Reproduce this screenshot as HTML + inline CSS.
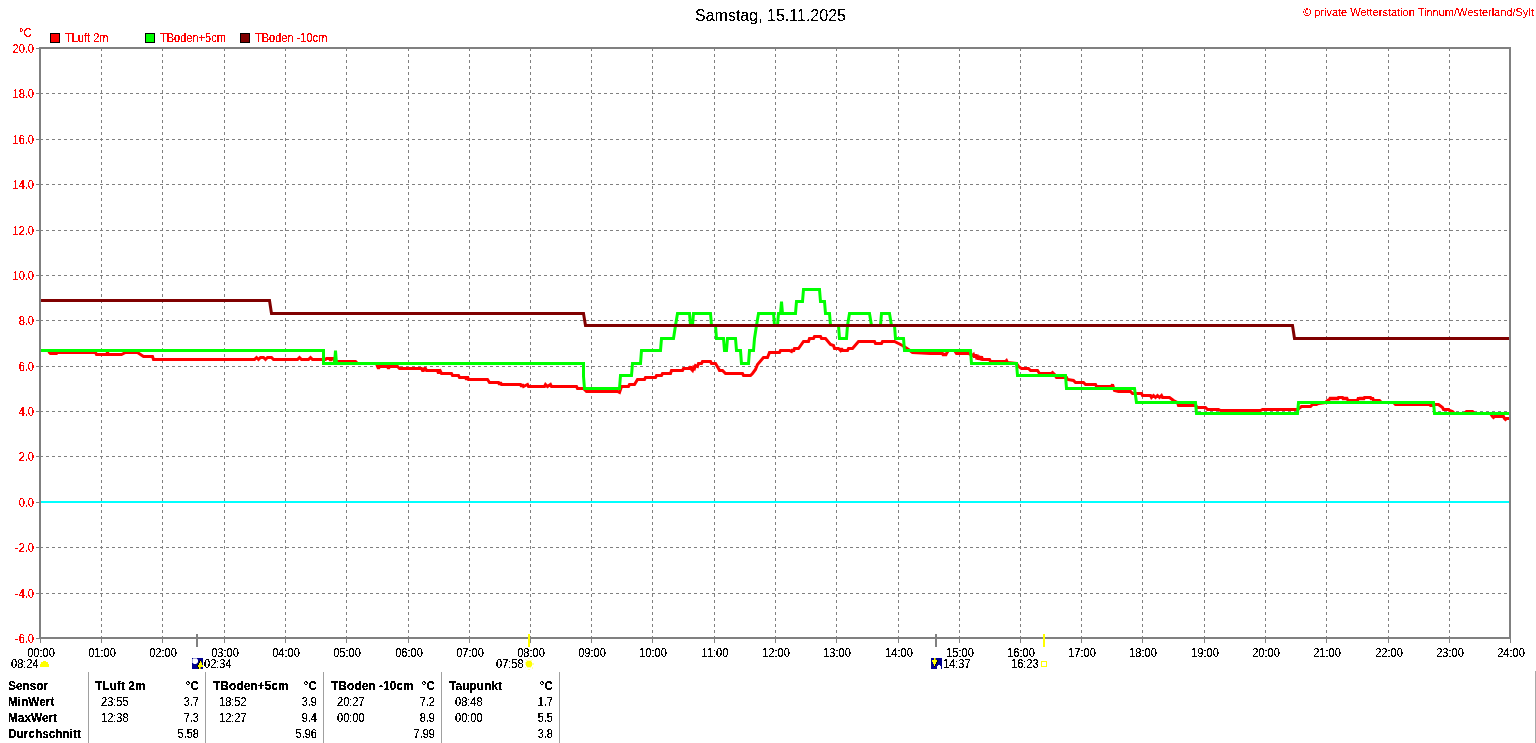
<!DOCTYPE html>
<html><head><meta charset="utf-8"><style>
html,body{margin:0;padding:0;background:#fff;}
svg{display:block;}
text{font-family:"Liberation Sans",sans-serif;}
</style></head><body>
<svg width="1536" height="743" viewBox="0 0 1536 743">
<rect width="1536" height="743" fill="#fff"/>
<g stroke="#808080" stroke-width="1" stroke-dasharray="3 3" shape-rendering="crispEdges"><line x1="40" y1="93.5" x2="1509" y2="93.5"/><line x1="40" y1="139.5" x2="1509" y2="139.5"/><line x1="40" y1="184.5" x2="1509" y2="184.5"/><line x1="40" y1="230.5" x2="1509" y2="230.5"/><line x1="40" y1="275.5" x2="1509" y2="275.5"/><line x1="40" y1="320.5" x2="1509" y2="320.5"/><line x1="40" y1="366.5" x2="1509" y2="366.5"/><line x1="40" y1="411.5" x2="1509" y2="411.5"/><line x1="40" y1="456.5" x2="1509" y2="456.5"/><line x1="40" y1="547.5" x2="1509" y2="547.5"/><line x1="40" y1="593.5" x2="1509" y2="593.5"/><line x1="101.5" y1="48" x2="101.5" y2="637"/><line x1="162.5" y1="48" x2="162.5" y2="637"/><line x1="224.5" y1="48" x2="224.5" y2="637"/><line x1="285.5" y1="48" x2="285.5" y2="637"/><line x1="346.5" y1="48" x2="346.5" y2="637"/><line x1="408.5" y1="48" x2="408.5" y2="637"/><line x1="469.5" y1="48" x2="469.5" y2="637"/><line x1="530.5" y1="48" x2="530.5" y2="637"/><line x1="591.5" y1="48" x2="591.5" y2="637"/><line x1="652.5" y1="48" x2="652.5" y2="637"/><line x1="714.5" y1="48" x2="714.5" y2="637"/><line x1="775.5" y1="48" x2="775.5" y2="637"/><line x1="836.5" y1="48" x2="836.5" y2="637"/><line x1="898.5" y1="48" x2="898.5" y2="637"/><line x1="959.5" y1="48" x2="959.5" y2="637"/><line x1="1020.5" y1="48" x2="1020.5" y2="637"/><line x1="1081.5" y1="48" x2="1081.5" y2="637"/><line x1="1142.5" y1="48" x2="1142.5" y2="637"/><line x1="1204.5" y1="48" x2="1204.5" y2="637"/><line x1="1265.5" y1="48" x2="1265.5" y2="637"/><line x1="1326.5" y1="48" x2="1326.5" y2="637"/><line x1="1388.5" y1="48" x2="1388.5" y2="637"/><line x1="1449.5" y1="48" x2="1449.5" y2="637"/></g><rect x="41" y="501" width="1468" height="2" fill="#00ffff"/><defs><filter id="crisp" x="0" y="0" width="1536" height="743" filterUnits="userSpaceOnUse"><feComponentTransfer><feFuncA type="discrete" tableValues="0 0 0 0 0 0 0 1 1 1 1 1 1 1 1 1 1 1 1 1"/></feComponentTransfer></filter><filter id="crisp2" x="0" y="0" width="1536" height="743" filterUnits="userSpaceOnUse"><feComponentTransfer><feFuncA type="discrete" tableValues="0 0 0 0 0 0 0 0 0 1 1 1 1 1 1 1 1 1 1 1"/></feComponentTransfer></filter><clipPath id="pc"><rect x="41" y="49" width="1468" height="588"/></clipPath></defs><g clip-path="url(#pc)"><polyline points="40.5,350.5 48.5,350.5 49.5,352.5 50.5,353.5 56.5,353.5 57.5,352.5 95.5,352.5 96.5,354.5 106.5,354.5 107.5,352.5 108.5,354.5 121.5,354.5 123.5,353.5 125.5,352.5 137.5,352.5 140.5,354.5 143.5,356.5 152.5,356.5 153.5,359.5 254.5,359.5 256.5,357.5 258.5,359.5 260.5,357.5 263.5,357.5 265.5,359.5 267.5,357.5 271.5,357.5 273.5,359.5 297.5,359.5 299.5,357.5 301.5,359.5 308.5,359.5 310.5,357.5 312.5,359.5 325.5,359.5 326.5,358.5 329.5,358.5 330.5,360.5 331.5,358.5 333.5,358.5 334.5,361.5 355.5,361.5 357.5,363.5 376.5,363.5 377.5,366.5 378.5,368.5 379.5,366.5 387.5,366.5 388.5,368.5 389.5,366.5 397.5,366.5 399.5,368.5 421.5,368.5 422.5,370.5 423.5,370.5 424.5,368.5 425.5,368.5 426.5,370.5 437.5,370.5 438.5,373.5 439.5,369.5 440.5,371.5 441.5,373.5 451.5,373.5 452.5,375.5 458.5,375.5 459.5,377.5 465.5,377.5 466.5,379.5 467.5,376.5 468.5,379.5 487.5,379.5 489.5,382.5 498.5,382.5 499.5,384.5 500.5,382.5 501.5,384.5 520.5,384.5 521.5,386.5 522.5,384.5 523.5,386.5 527.5,384.5 528.5,386.5 544.5,386.5 545.5,384.5 547.5,386.5 550.5,384.5 551.5,386.5 576.5,386.5 577.5,388.5 583.5,388.5 586.5,391.5 617.5,391.5 619.5,392.5 621.5,386.5 628.5,386.5 629.5,384.5 634.5,384.5 637.5,379.5 644.5,379.5 645.5,377.5 655.5,377.5 656.5,375.5 661.5,375.5 662.5,373.5 670.5,373.5 671.5,370.5 682.5,370.5 683.5,368.5 689.5,368.5 690.5,366.5 691.5,369.5 692.5,370.5 693.5,367.5 694.5,368.5 695.5,365.5 697.5,366.5 698.5,363.5 701.5,363.5 702.5,361.5 710.5,361.5 711.5,363.5 715.5,363.5 718.5,368.5 719.5,370.5 722.5,370.5 725.5,373.5 742.5,373.5 743.5,375.5 750.5,375.5 752.5,373.5 755.5,369.5 757.5,364.5 763.5,357.5 767.5,357.5 769.5,352.5 779.5,352.5 780.5,350.5 789.5,350.5 791.5,351.5 792.5,349.5 793.5,351.5 794.5,348.5 798.5,348.5 803.5,341.5 808.5,341.5 809.5,338.5 813.5,338.5 814.5,336.5 820.5,336.5 821.5,338.5 825.5,338.5 830.5,344.5 833.5,345.5 834.5,348.5 838.5,348.5 840.5,350.5 841.5,348.5 842.5,350.5 847.5,350.5 848.5,348.5 852.5,348.5 858.5,341.5 874.5,341.5 875.5,343.5 881.5,343.5 882.5,341.5 894.5,341.5 902.5,345.5 908.5,349.5 912.5,352.5 930.5,353.5 942.5,353.5 943.5,355.5 944.5,353.5 945.5,355.5 946.5,353.5 948.5,350.5 954.5,350.5 956.5,353.5 968.5,353.5 970.5,354.5 972.5,355.5 973.5,354.5 974.5,357.5 975.5,354.5 976.5,357.5 977.5,356.5 978.5,359.5 979.5,357.5 980.5,358.5 981.5,356.5 982.5,359.5 989.5,359.5 990.5,361.5 1005.5,361.5 1006.5,360.5 1007.5,362.5 1016.5,363.5 1018.5,366.5 1021.5,368.5 1028.5,368.5 1030.5,370.5 1037.5,370.5 1039.5,373.5 1051.5,373.5 1052.5,372.5 1054.5,374.5 1056.5,377.5 1066.5,377.5 1067.5,379.5 1073.5,380.5 1075.5,382.5 1083.5,382.5 1085.5,384.5 1095.5,384.5 1096.5,386.5 1111.5,386.5 1112.5,384.5 1114.5,390.5 1118.5,391.5 1130.5,391.5 1132.5,393.5 1141.5,393.5 1142.5,395.5 1150.5,395.5 1151.5,397.5 1153.5,395.5 1155.5,397.5 1157.5,395.5 1159.5,397.5 1161.5,395.5 1162.5,397.5 1169.5,397.5 1173.5,400.5 1177.5,402.5 1178.5,405.5 1195.5,405.5 1197.5,407.5 1205.5,407.5 1207.5,409.5 1218.5,409.5 1220.5,410.5 1260.5,410.5 1262.5,409.5 1297.5,409.5 1301.5,406.5 1310.5,406.5 1312.5,404.5 1316.5,404.5 1318.5,403.5 1325.5,402.5 1327.5,400.5 1329.5,399.5 1330.5,397.5 1331.5,399.5 1332.5,397.5 1333.5,399.5 1334.5,397.5 1335.5,399.5 1336.5,397.5 1337.5,399.5 1338.5,397.5 1339.5,397.5 1340.5,397.5 1341.5,397.5 1342.5,397.5 1343.5,399.5 1344.5,397.5 1345.5,399.5 1346.5,397.5 1347.5,399.5 1348.5,400.5 1357.5,400.5 1358.5,397.5 1359.5,399.5 1360.5,397.5 1361.5,399.5 1362.5,397.5 1363.5,399.5 1364.5,397.5 1365.5,397.5 1366.5,397.5 1367.5,397.5 1368.5,397.5 1369.5,397.5 1370.5,397.5 1371.5,399.5 1372.5,397.5 1373.5,400.5 1379.5,400.5 1381.5,402.5 1393.5,402.5 1395.5,404.5 1429.5,404.5 1430.5,405.5 1432.5,405.5 1433.5,404.5 1438.5,404.5 1442.5,407.5 1443.5,409.5 1448.5,409.5 1449.5,410.5 1452.5,411.5 1454.5,413.5 1464.5,413.5 1466.5,411.5 1472.5,411.5 1474.5,413.5 1490.5,413.5 1492.5,416.5 1493.5,417.5 1494.5,416.5 1503.5,416.5 1504.5,418.5 1505.5,419.5 1506.5,418.5 1509.5,418.5" fill="none" stroke="#ff0000" stroke-width="3" stroke-linejoin="miter" stroke-miterlimit="2" stroke-linecap="square"/><polyline points="40.5,350.5 323.5,350.5 323.5,363.5 334.5,363.5 335.5,350.5 336.5,363.5 583.5,363.5 583.5,376.5 584.5,388.5 619.5,388.5 620.5,375.5 631.5,375.5 632.5,363.5 640.5,363.5 641.5,350.5 660.5,350.5 661.5,338.5 673.5,338.5 675.5,325.5 677.5,313.5 689.5,313.5 690.5,325.5 692.5,325.5 693.5,313.5 710.5,313.5 711.5,325.5 715.5,325.5 716.5,338.5 723.5,338.5 724.5,350.5 726.5,350.5 727.5,338.5 735.5,338.5 736.5,350.5 740.5,350.5 741.5,363.5 748.5,363.5 749.5,350.5 753.5,350.5 754.5,338.5 756.5,325.5 758.5,313.5 773.5,313.5 774.5,325.5 777.5,325.5 778.5,313.5 780.5,313.5 781.5,301.5 782.5,313.5 795.5,313.5 796.5,301.5 802.5,301.5 803.5,289.5 819.5,289.5 820.5,301.5 824.5,301.5 825.5,313.5 829.5,313.5 830.5,325.5 838.5,325.5 839.5,338.5 846.5,338.5 847.5,325.5 849.5,313.5 869.5,313.5 871.5,325.5 880.5,325.5 881.5,313.5 889.5,313.5 891.5,325.5 894.5,325.5 895.5,338.5 903.5,338.5 904.5,350.5 970.5,350.5 971.5,363.5 1016.5,363.5 1017.5,375.5 1065.5,375.5 1066.5,388.5 1134.5,388.5 1136.5,402.5 1195.5,402.5 1196.5,413.5 1297.5,413.5 1298.5,402.5 1433.5,402.5 1434.5,413.5 1509.5,413.5" fill="none" stroke="#00ff00" stroke-width="3" stroke-linejoin="miter" stroke-miterlimit="2" stroke-linecap="square"/><polyline points="40.5,300.5 269.5,300.5 271.5,313.5 583.5,313.5 585.5,325.5 1292.5,325.5 1294.5,338.5 1509.5,338.5" fill="none" stroke="#800000" stroke-width="3" stroke-linejoin="miter" stroke-miterlimit="2" stroke-linecap="square"/></g><g fill="#808080" shape-rendering="crispEdges"><rect x="39" y="47" width="1472" height="2"/><rect x="39" y="47" width="2" height="592"/><rect x="1509" y="47" width="2" height="592"/><rect x="39" y="637" width="1472" height="2"/><rect x="36" y="48" width="3" height="1"/><rect x="36" y="93" width="3" height="1"/><rect x="36" y="139" width="3" height="1"/><rect x="36" y="184" width="3" height="1"/><rect x="36" y="230" width="3" height="1"/><rect x="36" y="275" width="3" height="1"/><rect x="36" y="320" width="3" height="1"/><rect x="36" y="366" width="3" height="1"/><rect x="36" y="411" width="3" height="1"/><rect x="36" y="456" width="3" height="1"/><rect x="36" y="502" width="3" height="1"/><rect x="36" y="547" width="3" height="1"/><rect x="36" y="593" width="3" height="1"/><rect x="36" y="638" width="3" height="1"/><rect x="40" y="639" width="1" height="4"/><rect x="101" y="639" width="1" height="4"/><rect x="162" y="639" width="1" height="4"/><rect x="224" y="639" width="1" height="4"/><rect x="285" y="639" width="1" height="4"/><rect x="346" y="639" width="1" height="4"/><rect x="408" y="639" width="1" height="4"/><rect x="469" y="639" width="1" height="4"/><rect x="530" y="639" width="1" height="4"/><rect x="591" y="639" width="1" height="4"/><rect x="652" y="639" width="1" height="4"/><rect x="714" y="639" width="1" height="4"/><rect x="775" y="639" width="1" height="4"/><rect x="836" y="639" width="1" height="4"/><rect x="898" y="639" width="1" height="4"/><rect x="959" y="639" width="1" height="4"/><rect x="1020" y="639" width="1" height="4"/><rect x="1081" y="639" width="1" height="4"/><rect x="1142" y="639" width="1" height="4"/><rect x="1204" y="639" width="1" height="4"/><rect x="1265" y="639" width="1" height="4"/><rect x="1326" y="639" width="1" height="4"/><rect x="1388" y="639" width="1" height="4"/><rect x="1449" y="639" width="1" height="4"/><rect x="1510" y="639" width="1" height="4"/></g><g filter="url(#crisp)" fill="#ff0000" font-family="Liberation Sans, sans-serif" font-size="11px"><text transform="translate(34 53) scale(0.92 1)" font-size="12px" text-anchor="end">20.0</text><text transform="translate(34 98) scale(0.92 1)" font-size="12px" text-anchor="end">18.0</text><text transform="translate(34 144) scale(0.92 1)" font-size="12px" text-anchor="end">16.0</text><text transform="translate(34 189) scale(0.92 1)" font-size="12px" text-anchor="end">14.0</text><text transform="translate(34 235) scale(0.92 1)" font-size="12px" text-anchor="end">12.0</text><text transform="translate(34 280) scale(0.92 1)" font-size="12px" text-anchor="end">10.0</text><text transform="translate(34 325) scale(0.92 1)" font-size="12px" text-anchor="end">8.0</text><text transform="translate(34 371) scale(0.92 1)" font-size="12px" text-anchor="end">6.0</text><text transform="translate(34 416) scale(0.92 1)" font-size="12px" text-anchor="end">4.0</text><text transform="translate(34 461) scale(0.92 1)" font-size="12px" text-anchor="end">2.0</text><text transform="translate(34 507) scale(0.92 1)" font-size="12px" text-anchor="end">0.0</text><text transform="translate(34 552) scale(0.92 1)" font-size="12px" text-anchor="end">-2.0</text><text transform="translate(34 598) scale(0.92 1)" font-size="12px" text-anchor="end">-4.0</text><text transform="translate(34 643) scale(0.92 1)" font-size="12px" text-anchor="end">-6.0</text><text transform="translate(19 37) scale(0.92 1)" font-size="12px">°C</text></g><g filter="url(#crisp)" fill="#000" font-family="Liberation Sans, sans-serif" font-size="11px"><text transform="translate(41 657) scale(0.92 1)" font-size="12px" text-anchor="middle">00:00</text><text transform="translate(102 657) scale(0.92 1)" font-size="12px" text-anchor="middle">01:00</text><text transform="translate(163 657) scale(0.92 1)" font-size="12px" text-anchor="middle">02:00</text><text transform="translate(225 657) scale(0.92 1)" font-size="12px" text-anchor="middle">03:00</text><text transform="translate(286 657) scale(0.92 1)" font-size="12px" text-anchor="middle">04:00</text><text transform="translate(347 657) scale(0.92 1)" font-size="12px" text-anchor="middle">05:00</text><text transform="translate(409 657) scale(0.92 1)" font-size="12px" text-anchor="middle">06:00</text><text transform="translate(470 657) scale(0.92 1)" font-size="12px" text-anchor="middle">07:00</text><text transform="translate(531 657) scale(0.92 1)" font-size="12px" text-anchor="middle">08:00</text><text transform="translate(592 657) scale(0.92 1)" font-size="12px" text-anchor="middle">09:00</text><text transform="translate(653 657) scale(0.92 1)" font-size="12px" text-anchor="middle">10:00</text><text transform="translate(715 657) scale(0.92 1)" font-size="12px" text-anchor="middle">11:00</text><text transform="translate(776 657) scale(0.92 1)" font-size="12px" text-anchor="middle">12:00</text><text transform="translate(837 657) scale(0.92 1)" font-size="12px" text-anchor="middle">13:00</text><text transform="translate(899 657) scale(0.92 1)" font-size="12px" text-anchor="middle">14:00</text><text transform="translate(960 657) scale(0.92 1)" font-size="12px" text-anchor="middle">15:00</text><text transform="translate(1021 657) scale(0.92 1)" font-size="12px" text-anchor="middle">16:00</text><text transform="translate(1082 657) scale(0.92 1)" font-size="12px" text-anchor="middle">17:00</text><text transform="translate(1143 657) scale(0.92 1)" font-size="12px" text-anchor="middle">18:00</text><text transform="translate(1205 657) scale(0.92 1)" font-size="12px" text-anchor="middle">19:00</text><text transform="translate(1266 657) scale(0.92 1)" font-size="12px" text-anchor="middle">20:00</text><text transform="translate(1327 657) scale(0.92 1)" font-size="12px" text-anchor="middle">21:00</text><text transform="translate(1389 657) scale(0.92 1)" font-size="12px" text-anchor="middle">22:00</text><text transform="translate(1450 657) scale(0.92 1)" font-size="12px" text-anchor="middle">23:00</text><text transform="translate(1511 657) scale(0.92 1)" font-size="12px" text-anchor="middle">24:00</text></g><g filter="url(#crisp2)"><text x="695" y="21" font-family="Liberation Sans, sans-serif" font-size="16px" fill="#000">Samstag, 15.11.2025</text></g><g filter="url(#crisp2)"><text x="1303" y="16" font-family="Liberation Sans, sans-serif" font-size="11px" fill="#ff0000">© private Wetterstation Tinnum/Westerland/Sylt</text></g><rect x="50.5" y="33.5" width="9" height="9" fill="#ff0000" stroke="#000" stroke-width="1" shape-rendering="crispEdges"/><g filter="url(#crisp)" font-family="Liberation Sans, sans-serif" fill="#ff0000"><text transform="translate(65 42) scale(0.92 1)" font-size="12px">TLuft 2m</text></g><rect x="145.5" y="33.5" width="9" height="9" fill="#00ff00" stroke="#000" stroke-width="1" shape-rendering="crispEdges"/><g filter="url(#crisp)" font-family="Liberation Sans, sans-serif" fill="#ff0000"><text transform="translate(160 42) scale(0.92 1)" font-size="12px">TBoden+5cm</text></g><rect x="240.5" y="33.5" width="9" height="9" fill="#800000" stroke="#000" stroke-width="1" shape-rendering="crispEdges"/><g filter="url(#crisp)" font-family="Liberation Sans, sans-serif" fill="#ff0000"><text transform="translate(255 42) scale(0.92 1)" font-size="12px">TBoden -10cm</text></g><g shape-rendering="crispEdges"><rect x="196" y="634" width="2" height="13" fill="#808080"/><rect x="528" y="634" width="2" height="13" fill="#ffff00"/><rect x="935" y="634" width="2" height="13" fill="#808080"/><rect x="1043" y="634" width="2" height="13" fill="#ffff00"/></g><g fill="#ffff00" shape-rendering="crispEdges"><rect x="43" y="661" width="3" height="1"/><rect x="41" y="662" width="7" height="2"/><rect x="40" y="664" width="9" height="3"/></g><g shape-rendering="crispEdges"><rect x="192" y="658" width="1" height="1" fill="#000090"/><rect x="193" y="658" width="4" height="1" fill="#a8a8dc"/><rect x="197" y="658" width="6" height="1" fill="#000090"/><rect x="192" y="659" width="1" height="1" fill="#a8a8dc"/><rect x="193" y="659" width="4" height="1" fill="#ffffff"/><rect x="197" y="659" width="1" height="1" fill="#a8a8dc"/><rect x="198" y="659" width="5" height="1" fill="#000090"/><rect x="192" y="660" width="1" height="1" fill="#a8a8dc"/><rect x="193" y="660" width="5" height="1" fill="#ffffff"/><rect x="198" y="660" width="2" height="1" fill="#000090"/><rect x="200" y="660" width="1" height="1" fill="#000000"/><rect x="201" y="660" width="2" height="1" fill="#000090"/><rect x="192" y="661" width="1" height="1" fill="#a8a8dc"/><rect x="193" y="661" width="5" height="1" fill="#ffffff"/><rect x="198" y="661" width="1" height="1" fill="#000090"/><rect x="199" y="661" width="1" height="1" fill="#000000"/><rect x="200" y="661" width="1" height="1" fill="#ffff00"/><rect x="201" y="661" width="2" height="1" fill="#000090"/><rect x="192" y="662" width="1" height="1" fill="#a8a8dc"/><rect x="193" y="662" width="4" height="1" fill="#ffffff"/><rect x="197" y="662" width="1" height="1" fill="#a8a8dc"/><rect x="198" y="662" width="1" height="1" fill="#000090"/><rect x="199" y="662" width="1" height="1" fill="#000000"/><rect x="200" y="662" width="1" height="1" fill="#ffff00"/><rect x="201" y="662" width="1" height="1" fill="#a0a000"/><rect x="202" y="662" width="1" height="1" fill="#000090"/><rect x="192" y="663" width="1" height="1" fill="#000090"/><rect x="193" y="663" width="1" height="1" fill="#a8a8dc"/><rect x="194" y="663" width="2" height="1" fill="#ffffff"/><rect x="196" y="663" width="1" height="1" fill="#a8a8dc"/><rect x="197" y="663" width="1" height="1" fill="#000090"/><rect x="198" y="663" width="1" height="1" fill="#000000"/><rect x="199" y="663" width="3" height="1" fill="#ffff00"/><rect x="202" y="663" width="1" height="1" fill="#000090"/><rect x="192" y="664" width="6" height="1" fill="#000090"/><rect x="198" y="664" width="1" height="1" fill="#000000"/><rect x="199" y="664" width="3" height="1" fill="#ffff00"/><rect x="202" y="664" width="1" height="1" fill="#000090"/><rect x="192" y="665" width="5" height="1" fill="#000090"/><rect x="197" y="665" width="1" height="1" fill="#000000"/><rect x="198" y="665" width="5" height="1" fill="#ffff00"/><rect x="192" y="666" width="5" height="1" fill="#000090"/><rect x="197" y="666" width="1" height="1" fill="#000000"/><rect x="198" y="666" width="5" height="1" fill="#ffff00"/><rect x="192" y="667" width="6" height="1" fill="#000090"/><rect x="198" y="667" width="1" height="1" fill="#000000"/><rect x="199" y="667" width="1" height="1" fill="#ffff00"/><rect x="200" y="667" width="1" height="1" fill="#a0a000"/><rect x="201" y="667" width="2" height="1" fill="#000090"/><rect x="192" y="668" width="6" height="1" fill="#000090"/><rect x="198" y="668" width="1" height="1" fill="#000000"/><rect x="199" y="668" width="1" height="1" fill="#ffff00"/><rect x="200" y="668" width="1" height="1" fill="#a0a000"/><rect x="201" y="668" width="2" height="1" fill="#000090"/></g><g shape-rendering="crispEdges"><rect x="931" y="658" width="3" height="1" fill="#000090"/><rect x="934" y="658" width="1" height="1" fill="#ffff00"/><rect x="935" y="658" width="1" height="1" fill="#a0a000"/><rect x="936" y="658" width="6" height="1" fill="#000090"/><rect x="931" y="659" width="3" height="1" fill="#000090"/><rect x="934" y="659" width="1" height="1" fill="#ffff00"/><rect x="935" y="659" width="1" height="1" fill="#a0a000"/><rect x="936" y="659" width="6" height="1" fill="#000090"/><rect x="931" y="660" width="1" height="1" fill="#000090"/><rect x="932" y="660" width="5" height="1" fill="#ffff00"/><rect x="937" y="660" width="1" height="1" fill="#000000"/><rect x="938" y="660" width="4" height="1" fill="#000090"/><rect x="931" y="661" width="1" height="1" fill="#000090"/><rect x="932" y="661" width="5" height="1" fill="#ffff00"/><rect x="937" y="661" width="1" height="1" fill="#000000"/><rect x="938" y="661" width="4" height="1" fill="#000090"/><rect x="931" y="662" width="2" height="1" fill="#000090"/><rect x="933" y="662" width="3" height="1" fill="#ffff00"/><rect x="936" y="662" width="1" height="1" fill="#000000"/><rect x="937" y="662" width="5" height="1" fill="#000090"/><rect x="931" y="663" width="2" height="1" fill="#000090"/><rect x="933" y="663" width="3" height="1" fill="#ffff00"/><rect x="936" y="663" width="1" height="1" fill="#000000"/><rect x="937" y="663" width="5" height="1" fill="#000090"/><rect x="931" y="664" width="3" height="1" fill="#000090"/><rect x="934" y="664" width="1" height="1" fill="#ffff00"/><rect x="935" y="664" width="1" height="1" fill="#000000"/><rect x="936" y="664" width="6" height="1" fill="#000090"/><rect x="931" y="665" width="3" height="1" fill="#000090"/><rect x="934" y="665" width="1" height="1" fill="#ffff00"/><rect x="935" y="665" width="1" height="1" fill="#000000"/><rect x="936" y="665" width="2" height="1" fill="#000090"/><rect x="938" y="665" width="2" height="1" fill="#ffffff"/><rect x="940" y="665" width="2" height="1" fill="#000090"/><rect x="931" y="666" width="3" height="1" fill="#000090"/><rect x="934" y="666" width="1" height="1" fill="#000000"/><rect x="935" y="666" width="2" height="1" fill="#000090"/><rect x="937" y="666" width="4" height="1" fill="#ffffff"/><rect x="941" y="666" width="1" height="1" fill="#000090"/><rect x="931" y="667" width="6" height="1" fill="#000090"/><rect x="937" y="667" width="4" height="1" fill="#ffffff"/><rect x="941" y="667" width="1" height="1" fill="#000090"/><rect x="931" y="668" width="6" height="1" fill="#000090"/><rect x="937" y="668" width="4" height="1" fill="#ffffff"/><rect x="941" y="668" width="1" height="1" fill="#000090"/></g><g shape-rendering="crispEdges"><rect x="528" y="658" width="2" height="1" fill="#ffffa8"/><rect x="525" y="659" width="1" height="1" fill="#ffffa8"/><rect x="532" y="659" width="1" height="1" fill="#ffffa8"/><rect x="526" y="660" width="6" height="1" fill="#ffffa8"/><rect x="526" y="661" width="1" height="1" fill="#ffffa8"/><rect x="527" y="661" width="4" height="1" fill="#ffff00"/><rect x="531" y="661" width="1" height="1" fill="#ffffa8"/><rect x="525" y="662" width="1" height="1" fill="#ffffa8"/><rect x="526" y="662" width="6" height="1" fill="#ffff00"/><rect x="525" y="663" width="1" height="1" fill="#ffffa8"/><rect x="526" y="663" width="6" height="1" fill="#ffff00"/><rect x="532" y="663" width="2" height="1" fill="#ffffa8"/><rect x="525" y="664" width="1" height="1" fill="#ffffa8"/><rect x="526" y="664" width="6" height="1" fill="#ffff00"/><rect x="532" y="664" width="2" height="1" fill="#ffffa8"/><rect x="526" y="665" width="6" height="1" fill="#ffff00"/><rect x="526" y="666" width="1" height="1" fill="#ffffa8"/><rect x="527" y="666" width="4" height="1" fill="#ffff00"/><rect x="531" y="666" width="1" height="1" fill="#ffffa8"/><rect x="525" y="667" width="1" height="1" fill="#ffffa8"/><rect x="527" y="667" width="4" height="1" fill="#ffffa8"/><rect x="532" y="667" width="1" height="1" fill="#ffffa8"/><rect x="532" y="668" width="1" height="1" fill="#ffffa8"/><rect x="528" y="669" width="2" height="1" fill="#ffffa8"/></g><g shape-rendering="crispEdges" fill="#ffff00"><rect x="1041" y="661" width="6" height="1"/><rect x="1041" y="666" width="6" height="1"/><rect x="1041" y="662" width="1" height="4"/><rect x="1046" y="662" width="1" height="4"/></g><g filter="url(#crisp)" font-family="Liberation Sans, sans-serif" font-size="11px" fill="#000"><text transform="translate(11 668) scale(0.92 1)" font-size="12px">08:24</text><text transform="translate(204 668) scale(0.92 1)" font-size="12px">02:34</text><text transform="translate(496 668) scale(0.92 1)" font-size="12px">07:58</text><text transform="translate(943 668) scale(0.92 1)" font-size="12px">14:37</text><text transform="translate(1011 668) scale(0.92 1)" font-size="12px">16:23</text></g><g fill="#a0a0a0" shape-rendering="crispEdges"><rect x="88" y="672" width="1" height="71"/><rect x="205" y="672" width="1" height="71"/><rect x="323" y="672" width="1" height="71"/><rect x="441" y="672" width="1" height="71"/><rect x="559" y="672" width="1" height="71"/></g><rect x="1535" y="671" width="1" height="72" fill="#a8a8a8" shape-rendering="crispEdges"/><g filter="url(#crisp)" font-family="Liberation Sans, sans-serif" font-size="11px" fill="#000"><text transform="translate(8 690) scale(0.985 1)" font-size="12px" font-weight="bold">Sensor</text><text transform="translate(8 706) scale(0.985 1)" font-size="12px" font-weight="bold">MinWert</text><text transform="translate(8 722) scale(0.985 1)" font-size="12px" font-weight="bold">MaxWert</text><text transform="translate(8 738) scale(0.985 1)" font-size="12px" font-weight="bold">Durchschnitt</text><text transform="translate(95 690) scale(1.0 1)" font-size="12px" font-weight="bold">TLuft 2m</text><text transform="translate(199 690) scale(1.0 1)" font-size="12px" text-anchor="end" font-weight="bold">°C</text><text transform="translate(101 706) scale(0.92 1)" font-size="12px">23:55</text><text transform="translate(199 706) scale(0.92 1)" font-size="12px" text-anchor="end">3.7</text><text transform="translate(101 722) scale(0.92 1)" font-size="12px">12:38</text><text transform="translate(199 722) scale(0.92 1)" font-size="12px" text-anchor="end">7.3</text><text transform="translate(199 738) scale(0.92 1)" font-size="12px" text-anchor="end">5.58</text><text transform="translate(213 690) scale(1.0 1)" font-size="12px" font-weight="bold">TBoden+5cm</text><text transform="translate(317 690) scale(1.0 1)" font-size="12px" text-anchor="end" font-weight="bold">°C</text><text transform="translate(219 706) scale(0.92 1)" font-size="12px">18:52</text><text transform="translate(317 706) scale(0.92 1)" font-size="12px" text-anchor="end">3.9</text><text transform="translate(219 722) scale(0.92 1)" font-size="12px">12:27</text><text transform="translate(317 722) scale(0.92 1)" font-size="12px" text-anchor="end">9.4</text><text transform="translate(317 738) scale(0.92 1)" font-size="12px" text-anchor="end">5.96</text><text transform="translate(331 690) scale(1.0 1)" font-size="12px" font-weight="bold">TBoden -10cm</text><text transform="translate(435 690) scale(1.0 1)" font-size="12px" text-anchor="end" font-weight="bold">°C</text><text transform="translate(337 706) scale(0.92 1)" font-size="12px">20:27</text><text transform="translate(435 706) scale(0.92 1)" font-size="12px" text-anchor="end">7.2</text><text transform="translate(337 722) scale(0.92 1)" font-size="12px">00:00</text><text transform="translate(435 722) scale(0.92 1)" font-size="12px" text-anchor="end">8.9</text><text transform="translate(435 738) scale(0.92 1)" font-size="12px" text-anchor="end">7.99</text><text transform="translate(449 690) scale(1.0 1)" font-size="12px" font-weight="bold">Taupunkt</text><text transform="translate(553 690) scale(1.0 1)" font-size="12px" text-anchor="end" font-weight="bold">°C</text><text transform="translate(455 706) scale(0.92 1)" font-size="12px">08:48</text><text transform="translate(553 706) scale(0.92 1)" font-size="12px" text-anchor="end">1.7</text><text transform="translate(455 722) scale(0.92 1)" font-size="12px">00:00</text><text transform="translate(553 722) scale(0.92 1)" font-size="12px" text-anchor="end">5.5</text><text transform="translate(553 738) scale(0.92 1)" font-size="12px" text-anchor="end">3.8</text></g>
</svg></body></html>
